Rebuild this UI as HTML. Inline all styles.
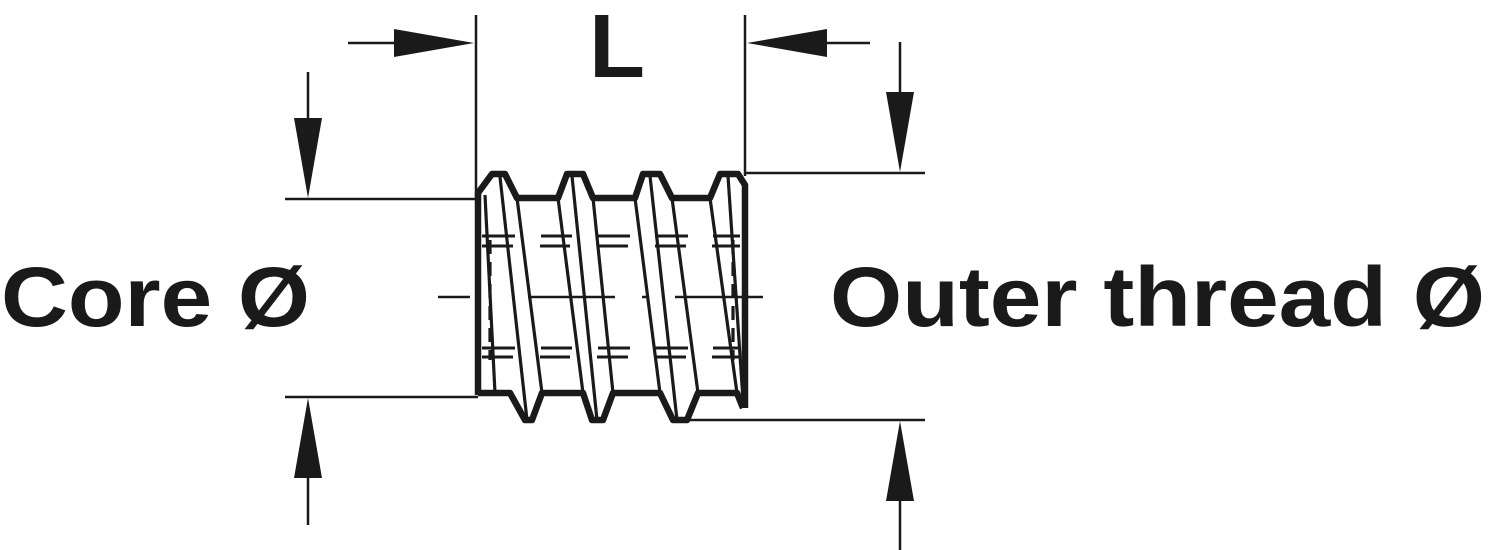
<!DOCTYPE html>
<html><head><style>
html,body{margin:0;padding:0;background:#fff;width:1488px;height:550px;overflow:hidden}
svg{display:block}
text{font-family:"Liberation Sans",sans-serif;font-weight:bold;fill:#1a1a1a}
</style></head><body>
<svg width="1488" height="550" viewBox="0 0 1488 550">
<g stroke="#1a1a1a" stroke-width="2.5" fill="none">
<line x1="476" y1="15" x2="476" y2="196"/>
<line x1="745" y1="15" x2="745" y2="176"/>
<line x1="285" y1="199" x2="478" y2="199"/>
<line x1="285" y1="397" x2="478" y2="397"/>
<line x1="745" y1="173" x2="925" y2="173"/>
<line x1="680" y1="420" x2="925" y2="420"/>
<line x1="348" y1="43" x2="400" y2="43"/>
<line x1="870" y1="43" x2="820" y2="43"/>
<line x1="308" y1="72" x2="308" y2="125"/>
<line x1="308" y1="525" x2="308" y2="470"/>
<line x1="900" y1="42" x2="900" y2="100"/>
<line x1="900" y1="550" x2="900" y2="495"/>
<line x1="438" y1="297" x2="470" y2="297"/>
<line x1="528" y1="297" x2="615" y2="297"/>
<line x1="675" y1="297" x2="763" y2="297"/>
<line x1="642" y1="297" x2="648" y2="297"/>
</g>
<g fill="#1a1a1a">
<polygon points="474,43 394,29 394,57"/>
<polygon points="747,43 827,29 827,57"/>
<polygon points="308,198 294,118 322,118"/>
<polygon points="308,398 294,478 322,478"/>
<polygon points="900,172 886,92 914,92"/>
<polygon points="900,421 886,501 914,501"/>
</g>
<g stroke="#1a1a1a" fill="none" stroke-linejoin="round">
<polyline stroke-width="6.5" points="478,395 478,193 492,174 505,174 517,198 558,198 567,174 583,174 593,198 635,198 643,174 660,174 672,198 710,198 720,174 738,174 745,185 745,408"/>
<polyline stroke-width="6.5" points="478,393 510,393 525,420 532,420 542,393 583,393 592,420 603,420 613,393 660,393 673,420 687,420 698,393 737,393 743,408"/>
<g stroke-width="3.2">
<line x1="485" y1="195" x2="495" y2="393"/>
<line x1="500" y1="177" x2="527" y2="420"/>
<line x1="517" y1="198" x2="542" y2="393"/>
<line x1="558" y1="198" x2="583" y2="393"/>
<line x1="572" y1="176" x2="597" y2="420"/>
<line x1="593" y1="198" x2="613" y2="393"/>
<line x1="635" y1="198" x2="660" y2="393"/>
<line x1="650" y1="176" x2="677" y2="420"/>
<line x1="672" y1="198" x2="698" y2="393"/>
<line x1="710" y1="198" x2="737" y2="393"/>
<line x1="728" y1="176" x2="743" y2="400"/>
<line x1="490" y1="240" x2="490" y2="360" stroke-dasharray="14,8"/>
<line x1="733" y1="240" x2="733" y2="360" stroke-dasharray="14,8"/>
</g>
<g stroke-width="3">
<line x1="482" y1="236" x2="515" y2="236"/><line x1="482" y1="246" x2="513" y2="246"/>
<line x1="541" y1="236" x2="572" y2="236"/><line x1="540" y1="246" x2="570" y2="246"/>
<line x1="597" y1="236" x2="630" y2="236"/><line x1="597" y1="246" x2="628" y2="246"/>
<line x1="655" y1="236" x2="688" y2="236"/><line x1="655" y1="246" x2="686" y2="246"/>
<line x1="713" y1="236" x2="740" y2="236"/><line x1="712" y1="246" x2="740" y2="246"/>
<line x1="482" y1="348" x2="515" y2="348"/><line x1="482" y1="357" x2="513" y2="357"/>
<line x1="541" y1="348" x2="572" y2="348"/><line x1="540" y1="357" x2="570" y2="357"/>
<line x1="598" y1="348" x2="630" y2="348"/><line x1="597" y1="357" x2="628" y2="357"/>
<line x1="655" y1="348" x2="688" y2="348"/><line x1="655" y1="357" x2="686" y2="357"/>
<line x1="713" y1="348" x2="740" y2="348"/><line x1="712" y1="357" x2="740" y2="357"/>
</g>
</g>
<text x="589" y="77" font-size="90" textLength="56" lengthAdjust="spacingAndGlyphs">L</text>
<text x="1" y="326" font-size="84" textLength="309" lengthAdjust="spacingAndGlyphs">Core Ø</text>
<text x="830" y="326" font-size="84" textLength="655" lengthAdjust="spacingAndGlyphs">Outer thread Ø</text>
</svg>
</body></html>
